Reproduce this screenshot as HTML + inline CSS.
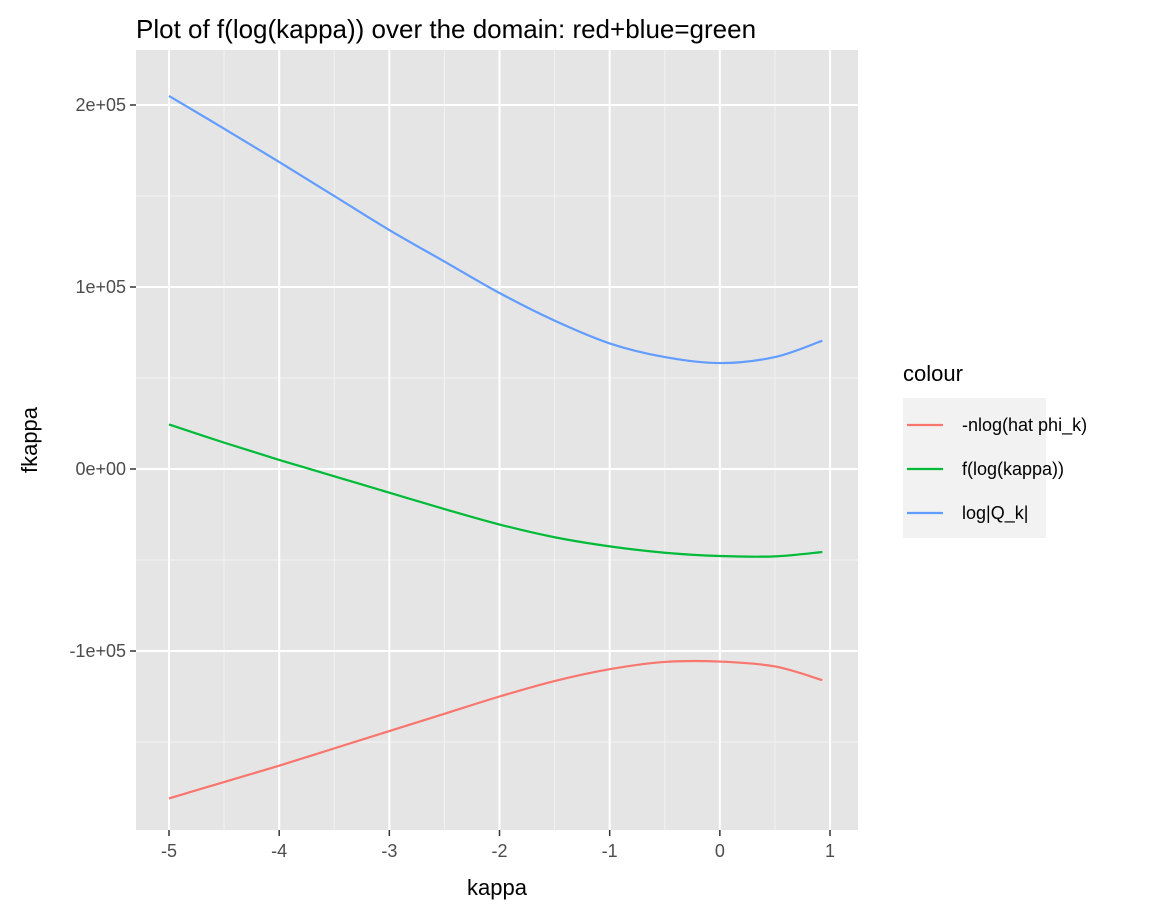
<!DOCTYPE html>
<html><head><meta charset="utf-8"><style>
body{margin:0;background:#fff;font-family:"Liberation Sans",Arial,sans-serif}
</style></head><body>
<svg id="chart" width="1156" height="918" xmlns="http://www.w3.org/2000/svg" font-family="Liberation Sans, Arial, sans-serif">
<text x="136" y="38" font-size="26" fill="#000">Plot of f(log(kappa)) over the domain: red+blue=green</text>
<rect x="136" y="50" width="722" height="780" fill="#e5e5e5"/>
<g id="grid"></g><g id="series"></g><g id="axes"></g>
<text x="497" y="895" font-size="22" text-anchor="middle">kappa</text>
<text transform="translate(37,440) rotate(-90)" font-size="22" text-anchor="middle">fkappa</text>
<g>
<text x="903" y="381" font-size="22">colour</text>
<g id="legend"></g>
</g>
</svg>
<script>
const xs = [-5,-4.5,-4,-3.5,-3,-2.5,-2,-1.5,-1,-0.5,0,0.5,0.93];
const blueVals = [205000,187000,168700,150000,131300,114000,96700,81500,69000,61500,58200,61500,70500];
const greenVals = [24500,14500,5000,-4000,-13000,-22000,-30500,-37500,-42500,-46000,-47800,-48000,-45600];
const redVals = [-181000,-172000,-163000,-153500,-144000,-134500,-125000,-116500,-110000,-106000,-105800,-108500,-116000];
const xTicks = [-5,-4,-3,-2,-1,0,1];
const xTickLabels = ["-5","-4","-3","-2","-1","0","1"];
const yTicks = [-100000,0,100000,200000];
const yTickLabels = ["-1e+05","0e+00","1e+05","2e+05"];
const seriesNames = ["-nlog(hat phi_k)","f(log(kappa))","log|Q_k|"];
const seriesColors = ["#f8766d","#00ba38","#619cff"];

const X = v => 169 + (v + 5) * 110.17;
const Y = v => 469 - v * 0.00182;
const NS = "http://www.w3.org/2000/svg";
function mk(tag, attrs, parent){const e=document.createElementNS(NS,tag);for(const k in attrs)e.setAttribute(k,attrs[k]);parent.appendChild(e);return e;}

const grid=document.getElementById('grid'), axes=document.getElementById('axes');
for(let i=0;i<xTicks.length-1;i++){
  const l=mk('line',{x1:X(xTicks[i]+0.5),x2:X(xTicks[i]+0.5),y1:50,y2:830,stroke:'#f2f2f2','stroke-width':1},grid);
  
  
}
for(let i=0;i<yTicks.length;i++){
  const m=mk('line',{x1:136,x2:858,y1:Y(yTicks[i]-50000),y2:Y(yTicks[i]-50000),stroke:'#f2f2f2','stroke-width':1},grid);
  
  
}
xTicks.forEach((t,i)=>{
  const l=mk('line',{x1:X(t),x2:X(t),y1:50,y2:830,stroke:'#fff','stroke-width':2},grid);
  
  
  const tk=mk('line',{x1:X(t),x2:X(t),y1:830,y2:836,stroke:'#333','stroke-width':1.5},axes);
  
  
  const tx=mk('text',{x:X(t),y:857,'font-size':18,fill:'#4d4d4d','text-anchor':'middle'},axes);
  tx.textContent=xTickLabels[i];
  
  
});
yTicks.forEach((t,i)=>{
  const l=mk('line',{x1:136,x2:858,y1:Y(t),y2:Y(t),stroke:'#fff','stroke-width':2},grid);
  
  
  const tk=mk('line',{x1:130,x2:136,y1:Y(t),y2:Y(t),stroke:'#333','stroke-width':1.5},axes);
  
  
  const tx=mk('text',{x:126,y:Y(t)+6,'font-size':18,fill:'#4d4d4d','text-anchor':'end'},axes);
  tx.textContent=yTickLabels[i];
  
  
});

function smooth(vals){
  const p=xs.map((x,i)=>[X(x),Y(vals[i])]);
  let d=`M${p[0][0]},${p[0][1]}`;
  for(let i=0;i<p.length-1;i++){
    const p0=p[Math.max(0,i-1)],p1=p[i],p2=p[i+1],p3=p[Math.min(p.length-1,i+2)];
    const c1=[p1[0]+(p2[0]-p0[0])/6,p1[1]+(p2[1]-p0[1])/6];
    const c2=[p2[0]-(p3[0]-p1[0])/6,p2[1]-(p3[1]-p1[1])/6];
    d+=` C${c1[0]},${c1[1]} ${c2[0]},${c2[1]} ${p2[0]},${p2[1]}`;
  }
  return d;
}
const series=document.getElementById('series');
[redVals,greenVals,blueVals].forEach((vals,i)=>{
  const path=mk('path',{d:smooth(vals),fill:'none',stroke:seriesColors[i],'stroke-width':2.2},series);
  
  
});
const legend=document.getElementById('legend');
const bg=mk('rect',{x:903,y:398,width:143,height:140,fill:'#f2f2f2'},legend);


seriesNames.forEach((n,i)=>{
  const y=425+i*44;
  const k=mk('rect',{x:903,y:y-22,width:44,height:44,fill:'#f2f2f2'},legend);
  
  
  const l=mk('line',{x1:907,x2:943,y1:y,y2:y,stroke:seriesColors[i],'stroke-width':2.2},legend);
  
  
  const t=mk('text',{x:962,y:y+6,'font-size':18,fill:'#000'},legend);
  t.textContent=n;
  
  
});
</script>
</body></html>
